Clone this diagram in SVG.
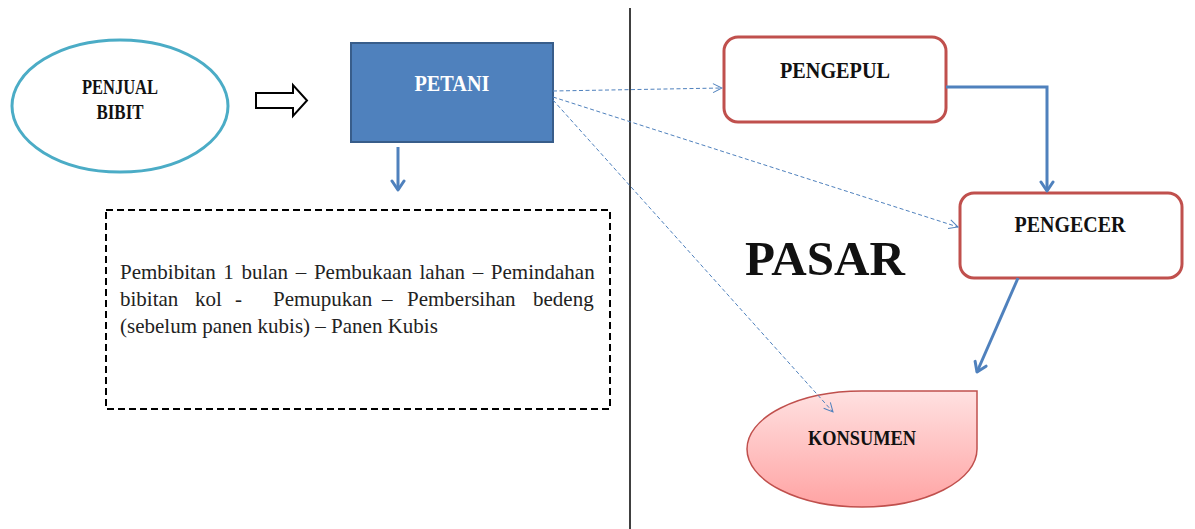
<svg xmlns="http://www.w3.org/2000/svg" width="1195" height="529" viewBox="0 0 1195 529">
<style>
.lbl{font-family:"Liberation Serif","Times New Roman",serif;font-weight:bold;fill:#111;}
.body{font-family:"Liberation Serif","Times New Roman",serif;font-size:21px;fill:#222;}
.thick{stroke:#4f81bd;stroke-width:3;fill:none;}
.dash{stroke:#4f81bd;stroke-width:1;stroke-dasharray:4 2.5;fill:none;}
.red{fill:#fff;stroke:#c0504d;stroke-width:3;}
</style>
<defs>
<marker id="ah" markerUnits="userSpaceOnUse" markerWidth="16" markerHeight="16" viewBox="0 0 16 16" refX="13" refY="8" orient="auto">
<path d="M4,2 L13,8 L4,14" fill="none" stroke="#4f81bd" stroke-width="3" stroke-linecap="round" stroke-linejoin="round"/>
</marker>
<marker id="ad" markerUnits="userSpaceOnUse" markerWidth="12" markerHeight="12" viewBox="0 0 12 12" refX="11" refY="6" orient="auto">
<path d="M2,1.5 L11,6 L2,10.5" fill="none" stroke="#4f81bd" stroke-width="1"/>
</marker>
<linearGradient id="pink" x1="0" y1="0" x2="0" y2="1">
<stop offset="0" stop-color="#ffe1e1"/>
<stop offset="1" stop-color="#ffa3a3"/>
</linearGradient>
</defs>
<rect width="1195" height="529" fill="#fff"/>
<line x1="630" y1="8" x2="630" y2="529" stroke="#404040" stroke-width="2"/>
<text class="lbl" x="745" y="275" font-size="48" textLength="160" lengthAdjust="spacingAndGlyphs">PASAR</text>

<g id="penjual-bibit">
<ellipse cx="120" cy="106" rx="108" ry="66" fill="#fff" stroke="#4bacc6" stroke-width="3"/>
<text class="lbl" x="120" y="94" font-size="20" text-anchor="middle" textLength="76" lengthAdjust="spacingAndGlyphs">PENJUAL</text>
<text class="lbl" x="120" y="119" font-size="20" text-anchor="middle" textLength="47" lengthAdjust="spacingAndGlyphs">BIBIT</text>
</g>
<g id="hollow-arrow">
<polygon points="256,93 293,93 293,85 307,100.5 293,116 293,108 256,108" fill="#fff" stroke="#000" stroke-width="2" stroke-linejoin="miter"/>
</g>
<g id="petani">
<rect x="351" y="43" width="202" height="99" fill="#4f81bd" stroke="#385d8a" stroke-width="2"/>
<text class="lbl" x="452" y="91" font-size="24" text-anchor="middle" style="fill:#fff" textLength="75" lengthAdjust="spacingAndGlyphs">PETANI</text>
</g>
<g id="proses">
<rect x="106" y="210" width="504" height="199" fill="#fff" stroke="#000" stroke-width="2" stroke-dasharray="7 4"/>
<text class="body" x="120" y="279" word-spacing="2.4">Pembibitan 1 bulan – Pembukaan lahan – Pemindahan</text>
<text class="body" y="306"><tspan x="120">bibitan</tspan><tspan x="195">kol</tspan><tspan x="235">-</tspan><tspan x="273">Pemupukan</tspan><tspan x="382">–</tspan><tspan x="407">Pembersihan</tspan><tspan x="533">bedeng</tspan></text>
<text class="body" x="120" y="333">(sebelum panen kubis) – Panen Kubis</text>
</g>
<g id="pengepul">
<rect class="red" x="724" y="37" width="222" height="85" rx="14"/>
<text class="lbl" x="835" y="78" font-size="24" text-anchor="middle" textLength="110" lengthAdjust="spacingAndGlyphs">PENGEPUL</text>
</g>
<g id="pengecer">
<rect class="red" x="960" y="193" width="222" height="85" rx="14"/>
<text class="lbl" x="1070" y="232" font-size="24" text-anchor="middle" textLength="111" lengthAdjust="spacingAndGlyphs">PENGECER</text>
</g>
<g id="konsumen">
<path d="M747,449 A115,58 0 0 1 862,391 L977,391 L977,449 A115,58 0 0 1 862,507 A115,58 0 0 1 747,449 Z" fill="url(#pink)" stroke="#c0504d" stroke-width="1.5"/>
<text class="lbl" x="862" y="445" font-size="21" text-anchor="middle" textLength="108" lengthAdjust="spacingAndGlyphs">KONSUMEN</text>
</g>
<g id="connectors">
<line class="thick" x1="398" y1="147" x2="398" y2="190" marker-end="url(#ah)"/>
<path class="thick" d="M946,87 L1047,87 L1047,191" marker-end="url(#ah)"/>
<line class="thick" x1="1018" y1="278" x2="977" y2="372" marker-end="url(#ah)"/>
<line class="dash" x1="553" y1="91" x2="722" y2="88" marker-end="url(#ad)"/>
<line class="dash" x1="553" y1="97" x2="958" y2="227" marker-end="url(#ad)"/>
<line class="dash" x1="553" y1="100" x2="833" y2="412" marker-end="url(#ad)"/>
</g>
</svg>
